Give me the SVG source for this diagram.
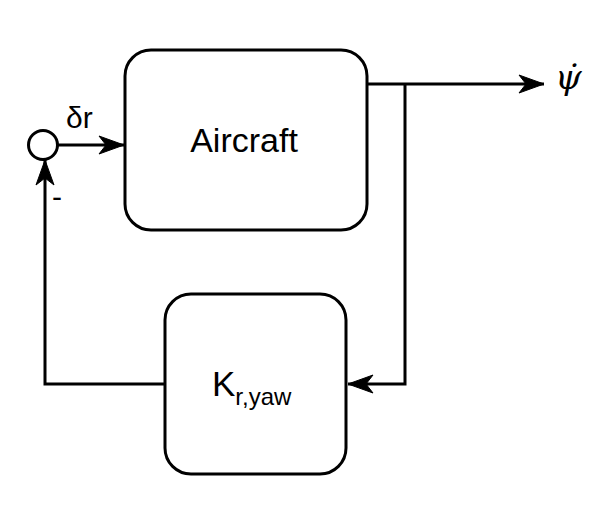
<svg xmlns="http://www.w3.org/2000/svg" width="608" height="513" viewBox="0 0 608 513">
<style>
.box{fill:#fff;stroke:#000;stroke-width:3}
.ln{fill:none;stroke:#000;stroke-width:3}
.t{font-family:"Liberation Sans",Arial,sans-serif;fill:#000}
</style>
<defs>
<marker id="ah" markerUnits="userSpaceOnUse" markerWidth="30" markerHeight="22" viewBox="-28 -11 30 22" refX="0" refY="0" orient="auto">
<path d="M0,0 L-25,-9 L-18,0 L-25,9 Z" fill="#000" stroke="#000" stroke-width="1"/>
</marker>
</defs>
<rect width="608" height="513" fill="#fff"/>
<g id="connectors">
<line class="ln" x1="58" y1="145" x2="124" y2="145" marker-end="url(#ah)"/>
<line class="ln" x1="367" y1="84" x2="544" y2="84" marker-end="url(#ah)"/>
<polyline class="ln" points="405,84 405,384 348,384" marker-end="url(#ah)"/>
<polyline class="ln" points="165,384 45,384 45,160" marker-end="url(#ah)"/>
</g>
<g id="sum">
<circle cx="43" cy="145" r="14.5" class="box"/>
</g>
<g id="aircraft">
<rect class="box" x="125" y="50" width="242" height="180" rx="26" ry="26"/>
<text class="t" x="244" y="152" font-size="34" text-anchor="middle">Aircraft</text>
</g>
<g id="kryaw">
<rect class="box" x="165" y="294" width="181" height="180" rx="26" ry="26"/>
<text class="t" x="212" y="396" font-size="35">K<tspan font-size="24" dy="9">r,yaw</tspan></text>
</g>
<g id="labels">
<text class="t" x="66" y="128" font-size="30">δr</text>
<text class="t" x="52" y="207" font-size="30">-</text>
<text x="555" y="89" font-size="34" font-style="italic" font-family="'DejaVu Serif','Liberation Serif',serif">ψ̇</text>
</g>
</svg>
